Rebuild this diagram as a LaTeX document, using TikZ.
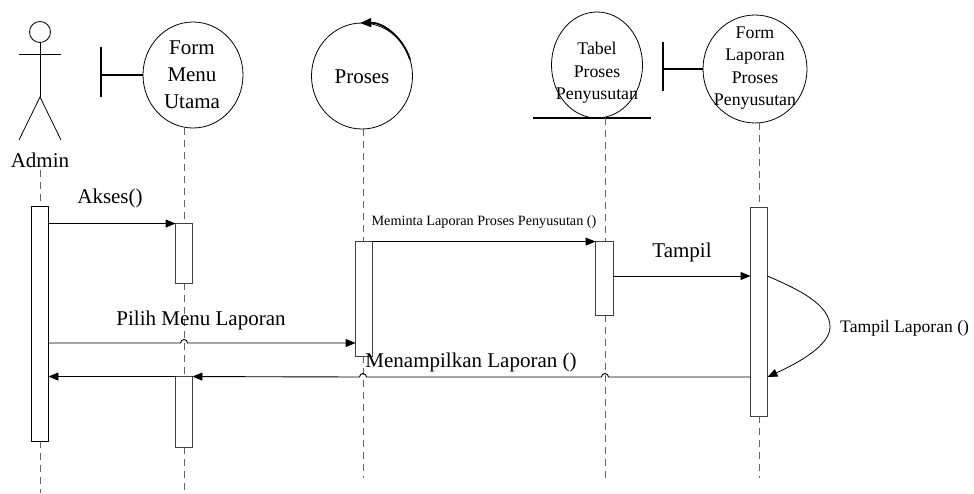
\documentclass[tikz,border=0pt]{standalone}
\usepackage{fontspec}
\setmainfont{Liberation Serif}
\usetikzlibrary{shapes.geometric,arrows.meta,calc}

\begin{document}
\begin{tikzpicture}[x=1pt,y=-1pt,
  lifeline/.style={draw=black!60, dash pattern=on 7pt off 5pt, line width=0.9pt},
  actbox/.style={draw=black!75, fill=white, line width=0.9pt, rectangle, inner sep=0pt, minimum width=16pt},
  objshape/.style={draw, ellipse, inner sep=0pt, line width=0.8pt},
  bar/.style={line width=2.6pt},
  msg/.style={draw, line width=0.9pt, -{Triangle[length=10pt,width=8pt]}},
  selfmsg/.style={draw, line width=0.8pt, -{Triangle[length=10pt,width=8pt]}},
  bigtxt/.style={font=\fontsize{21}{27}\selectfont, inner sep=0pt},
  midtxt/.style={font=\fontsize{17.8}{22.5}\selectfont, inner sep=0pt},
  smalltxt/.style={font=\fontsize{14.2}{17}\selectfont, inner sep=0pt},
  note/.style={font=\fontsize{17.6}{21}\selectfont, inner sep=0pt},
]
\useasboundingbox (0,0) rectangle (974,493);

% ---- actor ----
\draw[line width=0.8pt] (40,32) circle[radius=10.5pt];
\draw[line width=0.8pt] (19,54) -- (61,54);
\draw[line width=0.8pt] (40,43) -- (40,97);
\draw[line width=0.8pt] (19,140) -- (40,97) -- (61,140);
\node[bigtxt] (admTxt) at (40,160) {Admin};

% ---- objects ----
\node[objshape, minimum width=100pt, minimum height=106pt] (fmObj) at (193,75) {};
\node[bigtxt, align=center] (fmTxt) at (192,75) {Form\\Menu\\Utama};
\draw[bar] (101,47) -- (101,97);
\coordinate (fmBar) at (101,75);
\draw[bar] (fmBar) -- (fmObj.west);

\node[objshape, minimum width=101pt, minimum height=106pt] (prObj) at (362,76) {};
\node[bigtxt] (prTxt) at (362,77) {Proses};
\draw[line width=1.8pt, -{Triangle[length=11pt,width=9pt]}]
  ($(prObj.center)+(18:50.5pt and 53pt)$) arc[start angle=18, end angle=92, x radius=50.5pt, y radius=53pt];

\node[objshape, minimum width=91pt, minimum height=106pt] (tbObj) at (597,65) {};
\node[midtxt, align=center] (tbTxt) at (597,73) {Tabel\\Proses\\Penyusutan};
\coordinate (tbL) at (533,118);
\coordinate (tbR) at (651,118);
\draw[bar] (tbL) -- (tbR);

\node[objshape, minimum width=104pt, minimum height=108pt] (flObj) at (755,69) {};
\node[midtxt, align=center] (flTxt) at (755,68) {Form\\Laporan\\Proses\\Penyusutan};
\draw[bar] (663,42) -- (663,91);
\coordinate (flBar) at (663,69);
\draw[bar] (flBar) -- (flObj.west);

% ---- activation boxes (positions only, drawn after the lifelines) ----
\path
  (40,324)    node[actbox, draw=none, fill=none, minimum height=234pt] (admBox) {}
  (184,253.5) node[actbox, draw=none, fill=none, minimum height=59pt]  (fmBoxA) {}
  (184,412)   node[actbox, draw=none, fill=none, minimum height=70pt]  (fmBoxB) {}
  (364,299)   node[actbox, draw=none, fill=none, minimum height=114pt] (prBox) {}
  (604.5,278.5) node[actbox, draw=none, fill=none, minimum width=17pt, minimum height=73pt] (tbBox) {}
  (759,312)   node[actbox, draw=none, fill=none, minimum height=208pt] (flBox) {};

\coordinate (admTop) at (40,170);
\coordinate (admEnd) at (40,493);
\coordinate (fmEnd) at (184,493);
\coordinate (prEnd) at (363,478);
\coordinate (tbEnd) at (605,478);
\coordinate (flEnd) at (759,478);

% ---- lifelines ----
\draw[lifeline] (admTop) -- (admBox.north);
\draw[lifeline] (admBox.south) -- (admEnd);
\draw[lifeline] (fmBoxA.north |- fmObj.south) -- (fmBoxA.north);
\draw[lifeline] (fmBoxA.south) -- (fmBoxB.north);
\draw[lifeline] (fmBoxB.south) -- (fmEnd);
\draw[lifeline] (prEnd |- prObj.south) -- (prEnd |- prBox.north);
\draw[lifeline] (prEnd |- prBox.south) -- (prEnd);
\draw[lifeline] (tbEnd |- tbObj.south) -- (tbEnd |- tbBox.north);
\draw[lifeline] (tbEnd |- tbBox.south) -- (tbEnd);
\draw[lifeline] (flEnd |- flObj.south) -- (flEnd |- flBox.north);
\draw[lifeline] (flEnd |- flBox.south) -- (flEnd);

% ---- activation boxes ----
\draw[black, fill=white, line width=0.9pt] (admBox.north west) rectangle (admBox.south east);
\foreach \b in {fmBoxA,fmBoxB,prBox,tbBox,flBox}
  \draw[black!75, fill=white, line width=0.9pt] (\b.north west) rectangle (\b.south east);

% ---- messages ----
\coordinate (tampY) at (0,276);
\coordinate (pilY) at (0,343);
\coordinate (selfY) at (0,377);

\draw[msg] (admBox.east |- fmBoxA.north) -- (fmBoxA.north west);
\node[bigtxt] (aksesTxt) at (110,198) {Akses()};

\draw[msg] (prBox.north east) -- (tbBox.north west);
\node[smalltxt] (memTxt) at (484,222) {Meminta Laporan Proses Penyusutan ()};

\draw[msg] (tbBox.east |- tampY) -- (flBox.west |- tampY);
\node[bigtxt] (tampTxt) at (682,252) {Tampil};

\draw[msg] (admBox.east |- pilY) -- ($(fmBoxA.south |- pilY)+(-3.5pt,0)$)
  arc[start angle=180, end angle=0, radius=3.5pt] -- (prBox.west |- pilY);
\node[bigtxt] (pilTxt) at (201,320) {Pilih Menu Laporan};

\draw[msg] (flBox.west |- selfY) -- ($(tbEnd |- selfY)+(3.5pt,0)$)
  arc[start angle=0, end angle=180, radius=3.5pt]
  -- ($(prEnd |- selfY)+(3.5pt,0)$)
  arc[start angle=0, end angle=180, radius=3.5pt]
  -- (fmBoxB.north east);
\draw[msg] (fmBoxB.north west) -- (admBox.east |- fmBoxB.north);
\node[bigtxt] (menTxt) at (471,362) {Menampilkan Laporan ()};

\draw[selfmsg] (flBox.east |- tampY) .. controls (800,290) and (830,305) .. (830,327)
  .. controls (830,345) and (800,362) .. (flBox.east |- selfY);
\node[note, anchor=west] (selfTxt) at (840,328) {Tampil Laporan ()};

\end{tikzpicture}
\end{document}
